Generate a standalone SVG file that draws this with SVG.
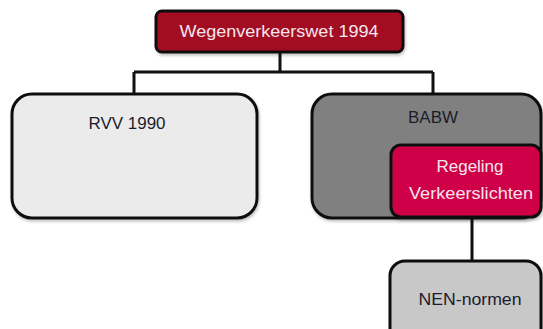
<svg xmlns="http://www.w3.org/2000/svg" width="543" height="329" viewBox="0 0 543 329">
<defs>
<style>
.box{stroke:#111;stroke-width:3}
.t{font-family:"Liberation Sans",Arial,sans-serif;font-size:16px;text-anchor:middle}
.dark{fill:#1c1c2c}
.light{fill:#f4e6ee}
.conn{fill:none;stroke:#111;stroke-width:3}
</style>
<filter id="sh" x="-10%" y="-10%" width="120%" height="130%">
<feDropShadow dx="1" dy="2" stdDeviation="1.5" flood-color="#000" flood-opacity="0.25"/>
</filter>
</defs>
<rect width="543" height="329" fill="#fff"/>
<g id="connectors">
<path class="conn" d="M280 52 V72 M134 72 H433 M134 72 V94 M433 72 V94 M472 217 V261"/>
</g>
<g id="wvw">
<rect class="box" x="156" y="11" width="247" height="41" rx="6" fill="#a30d20" filter="url(#sh)"/>
<text class="t light" x="279" y="37" textLength="199" lengthAdjust="spacingAndGlyphs">Wegenverkeerswet 1994</text>
</g>
<g id="rvv">
<rect class="box" x="12" y="94" width="245" height="124" rx="20" fill="#ebebeb" filter="url(#sh)"/>
<text class="t dark" x="127" y="129" textLength="77" lengthAdjust="spacingAndGlyphs">RVV 1990</text>
</g>
<g id="babw">
<rect class="box" x="312" y="94" width="229" height="124" rx="20" fill="#808080" filter="url(#sh)"/>
<text class="t dark" x="433" y="123" textLength="50" lengthAdjust="spacingAndGlyphs">BABW</text>
</g>
<g id="regeling">
<rect class="box" x="391" y="145" width="150" height="72" rx="10" fill="#cf0047" filter="url(#sh)"/>
<text class="t light" x="470" y="172" textLength="67" lengthAdjust="spacingAndGlyphs">Regeling</text>
<text class="t light" x="471" y="199" textLength="124" lengthAdjust="spacingAndGlyphs">Verkeerslichten</text>
</g>
<g id="nen">
<rect class="box" x="390" y="261" width="151" height="90" rx="15" fill="#c8c8c8" filter="url(#sh)"/>
<text class="t dark" x="470" y="305" textLength="103" lengthAdjust="spacingAndGlyphs">NEN-normen</text>
</g>
</svg>
